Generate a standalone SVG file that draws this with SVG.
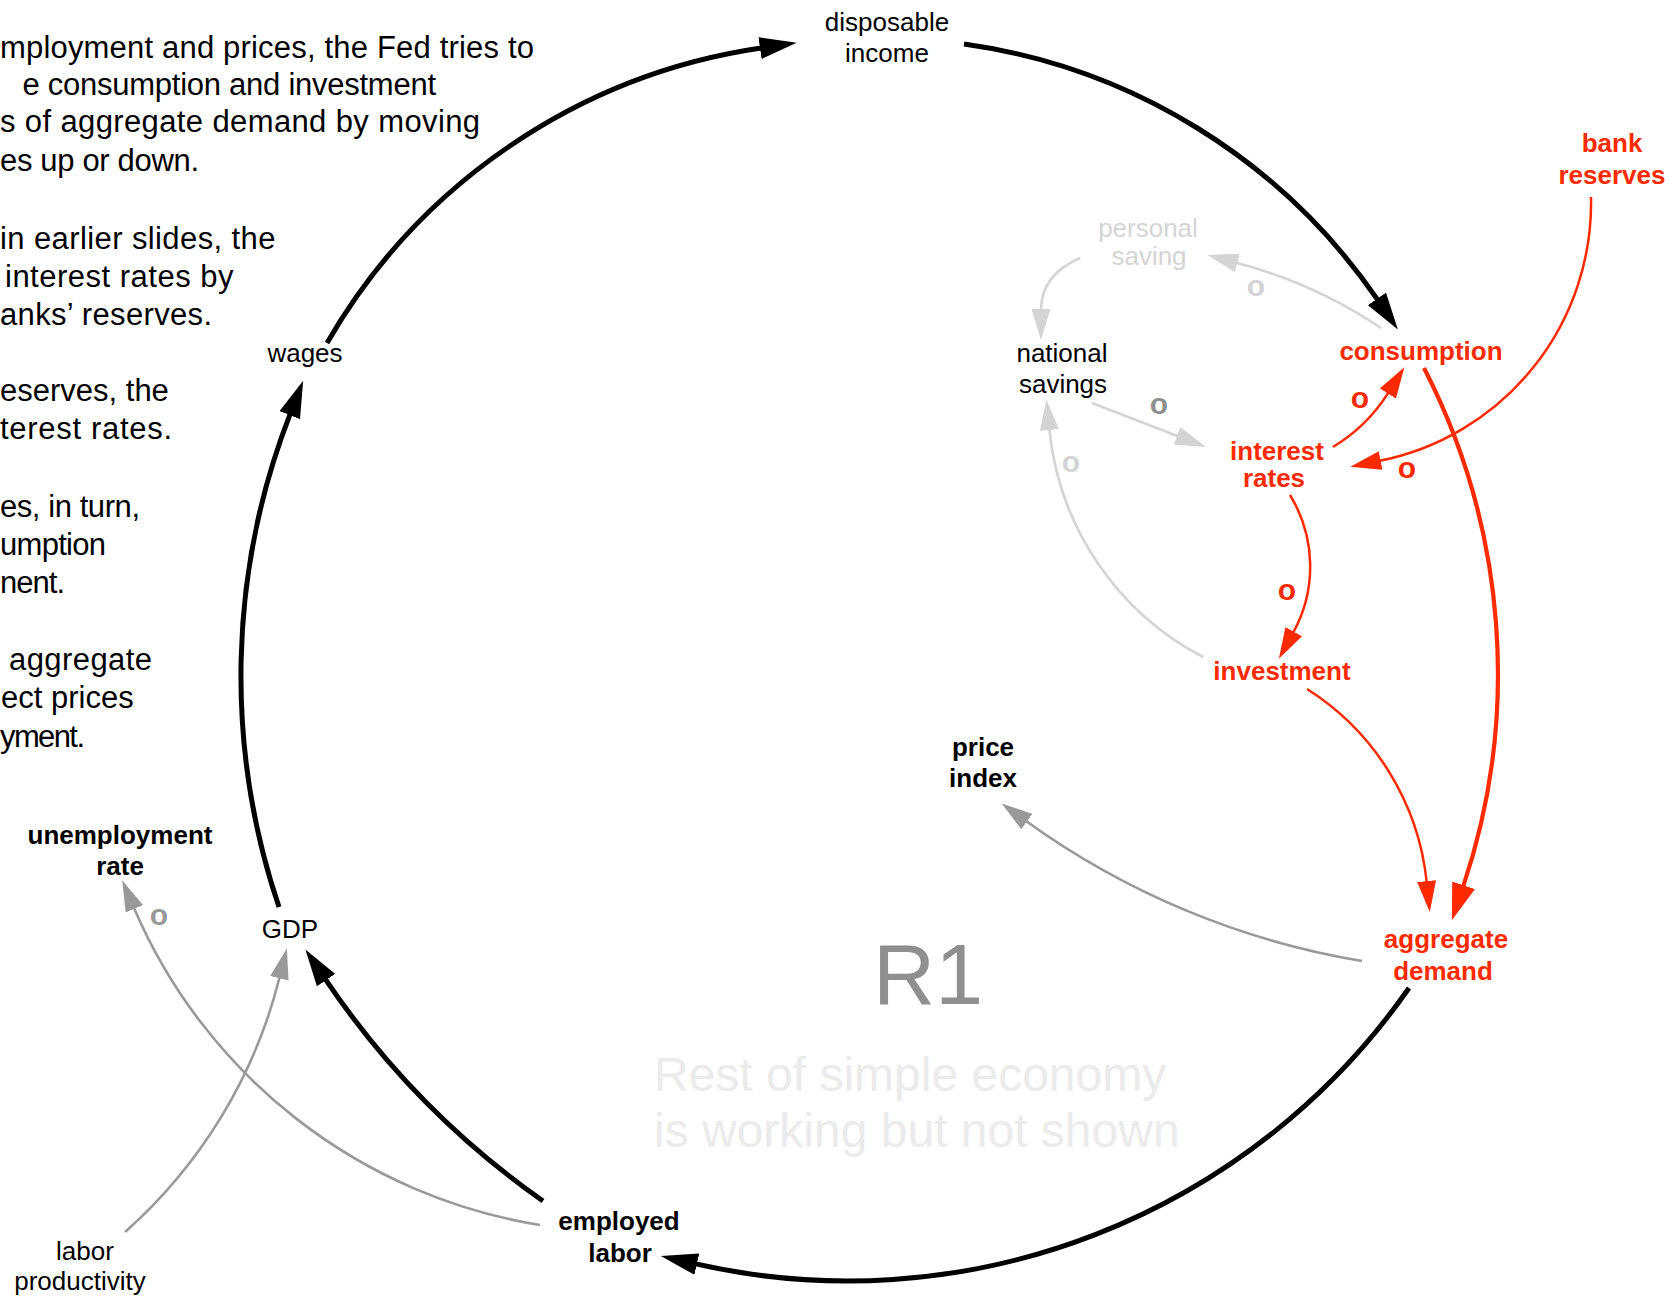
<svg xmlns="http://www.w3.org/2000/svg" width="1680" height="1301" viewBox="0 0 1680 1301">
  <style>
    text { font-family: "Liberation Sans", Arial, Helvetica, sans-serif; }
    .note { font-size: 31px; fill: #000; }
    .lbl { font-size: 26px; fill: #000; text-anchor: middle; }
    .b { font-weight: bold; }
    .red { fill: #ff2a00; }
    .faint { fill: #d4d4d4; }
    .pol { font-size: 30px; font-weight: bold; text-anchor: middle; }
    .main { fill: none; stroke: #000; stroke-width: 5; }
    .redThick { fill: none; stroke: #ff2a00; stroke-width: 4.2; }
    .redThin { fill: none; stroke: #ff2a00; stroke-width: 2.5; }
    .gray { fill: none; stroke: #999; stroke-width: 2.6; }
    .light { fill: none; stroke: #d4d4d4; stroke-width: 2.6; }
  </style>
  <defs>
    <marker id="ahBlack" markerUnits="userSpaceOnUse" viewBox="0 -11 37 22" refX="1" refY="0" markerWidth="37" markerHeight="22" orient="auto">
      <path d="M0,-11 L37,0 L0,11 z" fill="#000"/>
    </marker>
    <marker id="ahRedThick" markerUnits="userSpaceOnUse" viewBox="0 -12 37 24" refX="1" refY="0" markerWidth="37" markerHeight="24" orient="auto">
      <path d="M0,-12 L37,0 L0,12 z" fill="#ff2a00"/>
    </marker>
    <marker id="ahRed" markerUnits="userSpaceOnUse" viewBox="0 -9.5 31 19" refX="1" refY="0" markerWidth="31" markerHeight="19" orient="auto">
      <path d="M0,-9.5 L31,0 L0,9.5 z" fill="#ff2a00"/>
    </marker>
    <marker id="ahGray" markerUnits="userSpaceOnUse" viewBox="0 -9.5 31 19" refX="1" refY="0" markerWidth="31" markerHeight="19" orient="auto">
      <path d="M0,-9.5 L31,0 L0,9.5 z" fill="#999"/>
    </marker>
    <marker id="ahLight" markerUnits="userSpaceOnUse" viewBox="0 -9.5 31 19" refX="1" refY="0" markerWidth="31" markerHeight="19" orient="auto">
      <path d="M0,-9.5 L31,0 L0,9.5 z" fill="#d4d4d4"/>
    </marker>
  </defs>

  <rect width="1680" height="1301" fill="#fff"/>

  <!-- explanatory notes along the left edge -->
  <g id="notes">
    <text class="note" x="0" y="57.5" textLength="534">mployment and prices, the Fed tries to</text>
    <text class="note" x="22.5" y="95" textLength="413.5">e consumption and investment</text>
    <text class="note" x="0" y="132" textLength="480">s of aggregate demand by moving</text>
    <text class="note" x="0" y="171" textLength="199">es up or down.</text>
    <text class="note" x="0" y="249" textLength="275.5">in earlier slides, the</text>
    <text class="note" x="5" y="287" textLength="228.5">interest rates by</text>
    <text class="note" x="0" y="325" textLength="212">anks’ reserves.</text>
    <text class="note" x="0" y="401">eserves, the</text>
    <text class="note" x="0" y="439" textLength="172">terest rates.</text>
    <text class="note" x="0" y="517" textLength="140">es, in turn,</text>
    <text class="note" x="0" y="555" textLength="106">umption</text>
    <text class="note" x="0" y="593" textLength="65">nent.</text>
    <text class="note" x="9" y="670" textLength="143">aggregate</text>
    <text class="note" x="1" y="708">ect prices</text>
    <text class="note" x="0" y="747" textLength="85">yment.</text>
  </g>

  <!-- loop annotation -->
  <g id="loop-label">
    <text x="928" y="1004" font-size="86" fill="#8f8f8f" text-anchor="middle">R1</text>
    <text x="654" y="1091" font-size="48" fill="#ebebeb">Rest of simple economy</text>
    <text x="654" y="1147" font-size="48" fill="#ebebeb">is working but not shown</text>
  </g>

  <!-- causal links -->
  <g id="connectors">
    <!-- main reinforcing loop -->
    <path class="main" d="M327,343 A602,602 0 0 1 761,48" marker-end="url(#ahBlack)"/>
    <path class="main" d="M964,44 A602,602 0 0 1 1377.5,299.7" marker-end="url(#ahBlack)"/>
    <path class="redThick" d="M1424,368 A669,669 0 0 1 1463.3,886.2" marker-end="url(#ahRedThick)"/>
    <path class="main" d="M1409,988 A684,684 0 0 1 695.9,1263.9" marker-end="url(#ahBlack)"/>
    <path class="main" d="M543,1201 A853,853 0 0 1 325.5,979.3" marker-end="url(#ahBlack)"/>
    <path class="main" d="M279,907 A721,721 0 0 1 290.1,414.2" marker-end="url(#ahBlack)"/>

    <!-- side effects -->
    <path class="gray" d="M540,1225 A534,534 0 0 1 134,907.9" marker-end="url(#ahGray)"/>
    <path class="gray" d="M125,1232 A504,504 0 0 0 279.6,977.3" marker-end="url(#ahGray)"/>
    <path class="gray" d="M1362,961 A798,798 0 0 1 1026,821" marker-end="url(#ahGray)"/>

    <!-- monetary policy chain -->
    <path class="redThin" d="M1307,689 A260,260 0 0 1 1426.7,882.1" marker-end="url(#ahRed)"/>
    <path class="redThin" d="M1290,495 A137,137 0 0 1 1293.3,632.5" marker-end="url(#ahRed)"/>
    <path class="redThin" d="M1333,447 A167,167 0 0 0 1388.4,392.7" marker-end="url(#ahRed)"/>
    <path class="redThin" d="M1591,197 A263,263 0 0 1 1379.7,460.8" marker-end="url(#ahRed)"/>

    <!-- savings links -->
    <path class="light" d="M1381,328 A474,474 0 0 0 1236.3,262.7" marker-end="url(#ahLight)"/>
    <path class="light" d="M1080,258 Q1041,275 1041,310" marker-end="url(#ahLight)"/>
    <path class="light" d="M1092,403 L1178,436.2" marker-end="url(#ahLight)"/>
    <path class="light" d="M1203,657 A289,289 0 0 1 1049.3,429" marker-end="url(#ahLight)"/>

    <!-- link polarities -->
    <text class="pol faint" x="1256" y="296">o</text>
    <text class="pol" x="1159" y="414" fill="#8f8f8f">o</text>
    <text class="pol faint" x="1071" y="472">o</text>
    <text class="pol red" x="1360" y="408">o</text>
    <text class="pol red" x="1407" y="478">o</text>
    <text class="pol red" x="1287" y="600">o</text>
    <text class="pol" x="159" y="925" fill="#999">o</text>
  </g>

  <!-- variables -->
  <g id="disposable-income">
    <text class="lbl" x="887" y="31">disposable</text>
    <text class="lbl" x="887" y="62">income</text>
  </g>
  <g id="wages">
    <text class="lbl" x="305" y="362">wages</text>
  </g>
  <g id="gdp">
    <text class="lbl" x="290" y="938">GDP</text>
  </g>
  <g id="unemployment-rate">
    <text class="lbl b" x="120" y="844">unemployment</text>
    <text class="lbl b" x="120" y="875">rate</text>
  </g>
  <g id="labor-productivity">
    <text class="lbl" x="85" y="1260">labor</text>
    <text class="lbl" x="80" y="1290">productivity</text>
  </g>
  <g id="employed-labor">
    <text class="lbl b" x="619" y="1230">employed</text>
    <text class="lbl b" x="620" y="1262">labor</text>
  </g>
  <g id="price-index">
    <text class="lbl b" x="983" y="756">price</text>
    <text class="lbl b" x="983" y="787">index</text>
  </g>
  <g id="aggregate-demand">
    <text class="lbl b red" x="1446" y="948">aggregate</text>
    <text class="lbl b red" x="1443" y="980">demand</text>
  </g>
  <g id="consumption">
    <text class="lbl b red" x="1421" y="360">consumption</text>
  </g>
  <g id="bank-reserves">
    <text class="lbl b red" x="1612" y="152">bank</text>
    <text class="lbl b red" x="1612" y="184">reserves</text>
  </g>
  <g id="interest-rates">
    <text class="lbl b red" x="1277" y="460">interest</text>
    <text class="lbl b red" x="1274" y="487">rates</text>
  </g>
  <g id="investment">
    <text class="lbl b red" x="1282" y="680">investment</text>
  </g>
  <g id="national-savings">
    <text class="lbl" x="1062" y="362">national</text>
    <text class="lbl" x="1063" y="393">savings</text>
  </g>
  <g id="personal-saving">
    <text class="lbl faint" x="1148" y="237">personal</text>
    <text class="lbl faint" x="1149" y="265">saving</text>
  </g>
</svg>
